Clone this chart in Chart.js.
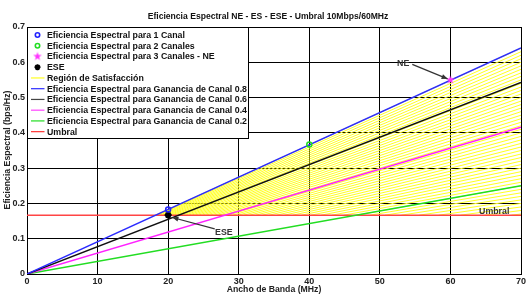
<!DOCTYPE html>
<html>
<head>
<meta charset="utf-8">
<script src="https://cdn.jsdelivr.net/npm/chart.js@4.4.1/dist/chart.umd.min.js"></script>
<style>
  body { margin: 0; background: #fff; }
  #wrap { width: 531px; height: 298px; }
</style>
</head>
<body>
<div id="wrap"><canvas id="myChartEfic" width="531" height="298"></canvas></div>
<script>
// datos
const anchoBanda = [0, 70];
const ganancia08 = [0, 0.641];
const ganancia06 = [0, 0.543];
const ganancia04 = [0, 0.416];
const ganancia02 = [0, 0.250];
const umbral = 0.1667; // 10Mbps / 60MHz

// puntos marcados: 1 canal, 2 canales, 3 canales (NE), ESE
const puntosX = [20, 40, 60, 20];
const puntosY = [0.183, 0.367, 0.550, 0.167];

// lineas de la region de satisfaccion (valor en 70 MHz)
const regionFin = [0.17, 0.18, 0.19, 0.20, 0.21, 0.22, 0.23, 0.24, 0.25, 0.26, 0.27, 0.28,
  0.29, 0.30, 0.31, 0.32, 0.33, 0.34, 0.35, 0.36, 0.37, 0.38, 0.39, 0.40, 0.41, 0.42, 0.43,
  0.44, 0.45, 0.46, 0.47, 0.48, 0.49, 0.50, 0.51, 0.52, 0.53, 0.54, 0.55, 0.56, 0.57, 0.58,
  0.59, 0.60, 0.61, 0.62, 0.63, 0.64];

const ticksX = [0, 10, 20, 30, 40, 50, 60, 70];
const ticksY = [0, 0.1, 0.2, 0.3, 0.4, 0.5, 0.6, 0.7];

const leyenda = [
  'Eficiencia Espectral para 1 Canal',
  'Eficiencia Espectral para 2 Canales',
  'Eficiencia Espectral para 3 Canales - NE',
  'ESE',
  'Región de Satisfacción',
  'Eficiencia Espectral para Ganancia de Canal 0.8',
  'Eficiencia Espectral para Ganancia de Canal 0.6',
  'Eficiencia Espectral para Ganancia de Canal 0.4',
  'Eficiencia Espectral para Ganancia de Canal 0.2',
  'Umbral'
];

const FONT = '"Liberation Sans", Arial, sans-serif';

// estrella de 5 puntas (pentagram) para NE
function makePentagram(size, color){
  let c = document.createElement('canvas');
  c.width = size; c.height = size;
  let g = c.getContext('2d');
  let cx = size/2, cy = size/2, R = size/2 - 0.5, r = R*0.4;
  g.beginPath();
  for(let i = 0; i < 10; i++){
    let rad = (i % 2 === 0) ? R : r;
    let a = -Math.PI/2 + i*Math.PI/5;
    let px = cx + rad*Math.cos(a), py = cy + rad*Math.sin(a);
    if(i === 0) g.moveTo(px, py); else g.lineTo(px, py);
  }
  g.closePath();
  g.fillStyle = color;
  g.fill();
  return c;
}
let pentagram = makePentagram(10, '#ff33ff');

function linea(xs, ys){
  let pts = [];
  for(let i in xs){
    pts.push({x: xs[i], y: ys[i]});
  }
  return pts;
}

let datasets = [];

// marcadores
datasets.push({label: leyenda[0], data: [{x: puntosX[0], y: puntosY[0]}], pointStyle: 'circle',
  pointRadius: 2.5, borderColor: '#2222ff', backgroundColor: 'rgba(0,0,0,0)', borderWidth: 1.5, order: 0});
datasets.push({label: leyenda[1], data: [{x: puntosX[1], y: puntosY[1]}], pointStyle: 'circle',
  pointRadius: 2.5, borderColor: '#22dd22', backgroundColor: 'rgba(0,0,0,0)', borderWidth: 1.5, order: 0});
datasets.push({label: leyenda[2], data: [{x: puntosX[2], y: puntosY[2]}], pointStyle: pentagram,
  pointRadius: 5, order: 0});
datasets.push({label: leyenda[3], data: [{x: puntosX[3], y: puntosY[3]}], pointStyle: 'star',
  pointRadius: 3.5, borderColor: '#000', borderWidth: 2, order: 0});

// lineas de ganancia y umbral
datasets.push({label: leyenda[5], data: linea(anchoBanda, ganancia08), showLine: true, pointRadius: 0,
  borderColor: '#2b2bff', borderWidth: 1.5, order: 1});
datasets.push({label: leyenda[6], data: linea(anchoBanda, ganancia06), showLine: true, pointRadius: 0,
  borderColor: '#111', borderWidth: 1.5, order: 1});
datasets.push({label: leyenda[7], data: linea(anchoBanda, ganancia04), showLine: true, pointRadius: 0,
  borderColor: '#ff22ff', borderWidth: 1.5, order: 1});
datasets.push({label: leyenda[8], data: linea(anchoBanda, ganancia02), showLine: true, pointRadius: 0,
  borderColor: '#22dd22', borderWidth: 1.5, order: 1});
datasets.push({label: leyenda[9], data: linea(anchoBanda, [umbral, umbral]), showLine: true, pointRadius: 0,
  borderColor: '#ff4444', borderWidth: 1.5, order: 1});

// region de satisfaccion: desde el umbral hasta 70 MHz
for(let i in regionFin){
  let fin = regionFin[i];
  let xIni = anchoBanda[1]*umbral/fin;
  datasets.push({label: leyenda[4], data: [{x: xIni, y: umbral}, {x: anchoBanda[1], y: fin}],
    showLine: true, pointRadius: 0, borderColor: '#ffff22', borderWidth: 1, order: 2});
}

// anotaciones (en unidades de datos)
const notas = [
  {texto: 'NE', x: 53.3, y: 0.595, desde: [54.6, 0.594], hasta: [59.6, 0.553]},
  {texto: 'ESE', x: 27.9, y: 0.116, desde: [26.6, 0.128], hasta: [20.6, 0.160]},
  {texto: 'Umbral', x: 66.2, y: 0.178}
];

function flecha(ctx, x1, y1, x2, y2){
  ctx.beginPath();
  ctx.moveTo(x1, y1);
  ctx.lineTo(x2, y2);
  ctx.stroke();
  let a = Math.atan2(y2 - y1, x2 - x1);
  let L = 6, W = 2.5;
  ctx.beginPath();
  ctx.moveTo(x2, y2);
  ctx.lineTo(x2 - L*Math.cos(a) + W*Math.sin(a), y2 - L*Math.sin(a) - W*Math.cos(a));
  ctx.lineTo(x2 - L*Math.cos(a) - W*Math.sin(a), y2 - L*Math.sin(a) + W*Math.cos(a));
  ctx.closePath();
  ctx.fill();
}

const extras = {
  id: 'extras',
  afterDatasetsDraw(chart){
    let ctx = chart.ctx;
    let sx = chart.scales.x, sy = chart.scales.y;
    ctx.save();
    ctx.strokeStyle = '#333';
    ctx.fillStyle = '#333';
    ctx.lineWidth = 1.2;
    for(let n of notas){
      if(n.desde){
        flecha(ctx, sx.getPixelForValue(n.desde[0]), sy.getPixelForValue(n.desde[1]),
          sx.getPixelForValue(n.hasta[0]), sy.getPixelForValue(n.hasta[1]));
      }
    }
    ctx.font = 'bold 8.8px ' + FONT;
    ctx.textAlign = 'center';
    ctx.textBaseline = 'middle';
    for(let n of notas){
      ctx.fillText(n.texto, sx.getPixelForValue(n.x), sy.getPixelForValue(n.y));
    }
    ctx.restore();
  },
  afterDraw(chart){
    let ctx = chart.ctx;
    let area = chart.chartArea;
    ctx.save();
    // titulo
    ctx.fillStyle = '#111';
    ctx.font = 'bold 8.6px ' + FONT;
    ctx.textAlign = 'center';
    ctx.textBaseline = 'middle';
    ctx.fillText('Eficiencia Espectral NE - ES - ESE - Umbral 10Mbps/60MHz', 268, 17);
    // titulos de ejes
    ctx.font = 'bold 8.7px ' + FONT;
    ctx.fillStyle = '#222';
    ctx.fillText('Ancho de Banda (MHz)', (area.left + area.right)/2, 290);
    ctx.save();
    ctx.translate(8, 150);
    ctx.rotate(-Math.PI/2);
    ctx.fillText('Eficiencia Espectral (bps/Hz)', 0, 0);
    ctx.restore();

    // leyenda
    let bx = area.left + 0.5, by = area.top + 0.5, bw = 221, bh = 111;
    ctx.fillStyle = '#fff';
    ctx.fillRect(bx, by, bw, bh);
    ctx.strokeStyle = '#000';
    ctx.lineWidth = 1;
    ctx.strokeRect(bx, by, bw, bh);
    let filas = [
      {tipo: 'circulo', color: '#2222ff'},
      {tipo: 'circulo', color: '#22dd22'},
      {tipo: 'pentagram'},
      {tipo: 'star', color: '#000'},
      {tipo: 'linea', color: '#ffff22'},
      {tipo: 'linea', color: '#2b2bff'},
      {tipo: 'linea', color: '#444'},
      {tipo: 'linea', color: '#ff44ff'},
      {tipo: 'linea', color: '#22dd22'},
      {tipo: 'linea', color: '#ff3333'}
    ];
    ctx.font = 'bold 8.8px ' + FONT;
    ctx.textAlign = 'left';
    for(let i = 0; i < filas.length; i++){
      let yy = area.top + 8 + i*10.74;
      let f = filas[i];
      let cx = area.left + 10.5;
      if(f.tipo === 'circulo'){
        ctx.beginPath();
        ctx.arc(cx, yy, 2.2, 0, Math.PI*2);
        ctx.strokeStyle = f.color;
        ctx.lineWidth = 1.6;
        ctx.stroke();
      } else if(f.tipo === 'pentagram'){
        ctx.drawImage(pentagram, cx - 5, yy - 5);
      } else if(f.tipo === 'star'){
        ctx.strokeStyle = f.color;
        ctx.lineWidth = 1.8;
        ctx.beginPath();
        for(let k = 0; k < 4; k++){
          let a = k*Math.PI/4;
          ctx.moveTo(cx - 3*Math.cos(a), yy - 3*Math.sin(a));
          ctx.lineTo(cx + 3*Math.cos(a), yy + 3*Math.sin(a));
        }
        ctx.stroke();
      } else {
        ctx.strokeStyle = f.color;
        ctx.lineWidth = 1.2;
        ctx.beginPath();
        ctx.moveTo(area.left + 4, yy);
        ctx.lineTo(area.left + 17.5, yy);
        ctx.stroke();
      }
      ctx.fillStyle = '#111';
      ctx.fillText(leyenda[i], area.left + 20, yy + 0.5);
    }
    ctx.restore();
  }
};

let canvas = document.getElementById('myChartEfic');
let myChartEfic = new Chart(canvas, {
  type: 'scatter',
  data: {datasets: datasets},
  options: {
    responsive: false,
    animation: false,
    layout: {padding: {top: 27, right: 10, left: 0, bottom: 0}},
    plugins: {
      legend: {display: false},
      title: {display: false},
      tooltip: {enabled: false}
    },
    elements: {line: {tension: 0}},
    scales: {
      x: {
        type: 'linear', min: 0, max: 70,
        afterFit: function(s){ s.height = 24; },
        afterBuildTicks: function(s){ s.ticks = ticksX.map(v => ({value: v})); },
        grid: {color: '#000', lineWidth: 1, drawTicks: false},
        border: {color: '#000', width: 1},
        ticks: {padding: 2, color: '#222', font: {family: FONT, size: 9, weight: 'bold'},
          maxRotation: 0}
      },
      y: {
        type: 'linear', min: 0, max: 0.7,
        afterFit: function(s){ s.width = 27; },
        afterBuildTicks: function(s){ s.ticks = ticksY.map(v => ({value: v})); },
        grid: {color: '#000', lineWidth: 1, drawTicks: false},
        border: {color: '#000', width: 1},
        ticks: {padding: 2, color: '#222', font: {family: FONT, size: 9, weight: 'bold'},
          callback: function(v){ return String(Math.round(v*10)/10); }}
      }
    }
  },
  plugins: [extras]
});
</script>
</body>
</html>
